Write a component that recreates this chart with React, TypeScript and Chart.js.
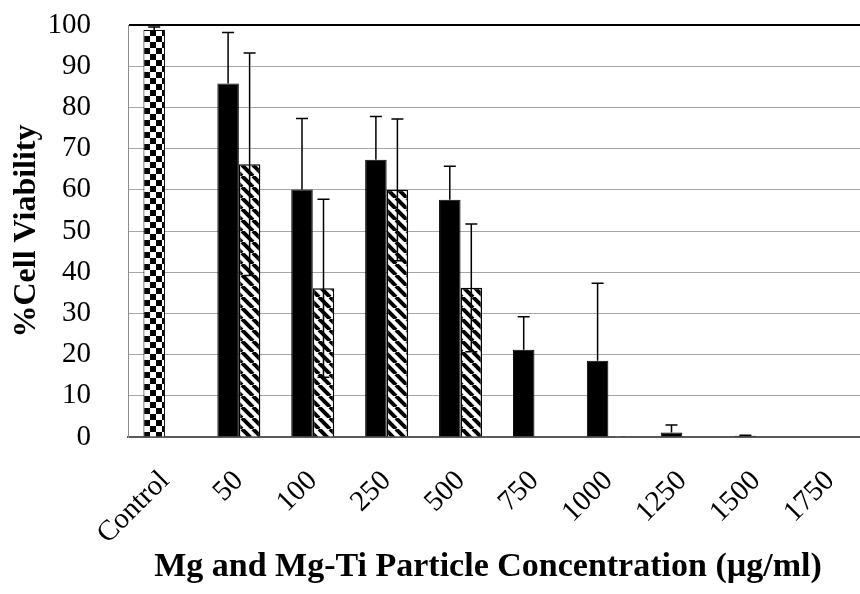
import React, { useEffect, useRef } from 'react';
import { Chart, registerables } from 'chart.js';

Chart.register(...registerables);

const categories = ['Control', '50', '100', '250', '500', '750', '1000', '1250', '1500', '1750'];
const mgValues = [98.8, 85.8, 60.1, 67.3, 57.6, 21.2, 18.5, 1.1, 0.3, null];
const mgErrors = [0.7, 12.4, 17.2, 10.5, 8.1, 8.0, 18.8, 1.8, 0.1, 0];
const mgTiValues = [null, 66.2, 36.1, 60.0, 36.2, null, 0.2, null, null, null];
const mgTiErrors = [0, 27.0, 21.6, 17.2, 15.5, 0, 0, 0, 0, 0];
const yMin = 0;
const yMax = 100;
const yStep = 10;
const xTitle = 'Mg and Mg-Ti Particle Concentration (µg/ml)';
const yTitle = '%Cell Viability';

const SERIF = "'Liberation Serif', 'Times New Roman', Times, serif";

function makeChecker(): CanvasPattern | string {
  const c = document.createElement('canvas');
  const s = 6;
  c.width = s * 2;
  c.height = s * 2;
  const g = c.getContext('2d');
  if (!g) return '#000';
  g.fillStyle = '#fff';
  g.fillRect(0, 0, s * 2, s * 2);
  g.fillStyle = '#000';
  g.fillRect(0, 0, s, s);
  g.fillRect(s, s, s, s);
  return g.createPattern(c, 'repeat') || '#000';
}

function makeHatch(): CanvasPattern | string {
  const c = document.createElement('canvas');
  const s = 11;
  c.width = s;
  c.height = s;
  const g = c.getContext('2d');
  if (!g) return '#888';
  g.fillStyle = '#fff';
  g.fillRect(0, 0, s, s);
  g.strokeStyle = '#000';
  g.lineWidth = 4;
  for (const x0 of [-s, 0, s]) {
    g.beginPath();
    g.moveTo(x0, 0);
    g.lineTo(x0 + s, s);
    g.stroke();
  }
  return g.createPattern(c, 'repeat') || '#888';
}

const errorBarPlugin = {
  id: 'errorBars',
  afterDatasetsDraw(chart: any) {
    const { ctx } = chart;
    const yScale = chart.scales.y;
    const sets = [
      { idx: 0, vals: mgValues, errs: mgErrors, both: false },
      { idx: 1, vals: mgTiValues, errs: mgTiErrors, both: true },
    ];
    ctx.save();
    ctx.strokeStyle = '#000';
    ctx.lineWidth = 1.5;
    for (const s of sets) {
      const meta = chart.getDatasetMeta(s.idx);
      meta.data.forEach((bar: any, i: number) => {
        const v = s.vals[i];
        const e = s.errs[i];
        if (v == null || !e) return;
        const x = bar.x;
        const yTop = yScale.getPixelForValue(v + e);
        const yBot = s.both ? yScale.getPixelForValue(Math.max(0, v - e)) : yScale.getPixelForValue(v);
        const cap = 6;
        ctx.beginPath();
        ctx.moveTo(x, yBot);
        ctx.lineTo(x, yTop);
        ctx.moveTo(x - cap, yTop);
        ctx.lineTo(x + cap, yTop);
        if (s.both) {
          ctx.moveTo(x - cap, yBot);
          ctx.lineTo(x + cap, yBot);
        }
        ctx.stroke();
      });
    }
    ctx.restore();
  },
};

const xTitlePlugin = {
  id: 'xTitleText',
  afterDraw(chart: any) {
    const { ctx } = chart;
    ctx.save();
    ctx.fillStyle = '#000';
    ctx.font = `bold 34px ${SERIF}`;
    ctx.textAlign = 'center';
    ctx.textBaseline = 'middle';
    ctx.fillText(xTitle, 488, 567);
    ctx.restore();
  },
};

export default function App() {
  const ref = useRef<HTMLCanvasElement | null>(null);

  useEffect(() => {
    if (!ref.current) return;
    const checker = makeChecker();
    const hatch = makeHatch();
    const mgColors = mgValues.map((_, i) => (i === 0 ? checker : '#000'));
    const chart = new Chart(ref.current, {
      type: 'bar',
      data: {
        labels: categories,
        datasets: [
          {
            label: 'Mg',
            data: mgValues as any,
            backgroundColor: mgColors as any,
            borderColor: '#000',
            borderWidth: 1,
            categoryPercentage: 0.582,
            barPercentage: 1,
          },
          {
            label: 'Mg-Ti',
            data: mgTiValues as any,
            backgroundColor: hatch as any,
            borderColor: '#000',
            borderWidth: 1.5,
            categoryPercentage: 0.582,
            barPercentage: 1,
          },
        ],
      },
      options: {
        animation: false,
        responsive: false,
        devicePixelRatio: 1,
        layout: { padding: { top: 25, right: 3, bottom: 0, left: 0 } },
        plugins: {
          legend: { display: false },
          tooltip: { enabled: false },
        },
        scales: {
          x: {
            grid: { display: false, drawTicks: false },
            border: { display: true, color: '#595959', width: 2 },
            ticks: {
              color: '#000',
              font: { family: SERIF, size: 29 },
              minRotation: 45,
              maxRotation: 45,
              padding: 27,
              autoSkip: false,
            },
            title: { display: false },
            afterFit(scale: any) {
              scale.height = 157;
              scale.paddingLeft = 0;
              scale.paddingRight = 0;
            },
          },
          y: {
            min: yMin,
            max: yMax,
            ticks: {
              stepSize: yStep,
              color: '#000',
              font: { family: SERIF, size: 29 },
              padding: 37,
            },
            grid: {
              drawTicks: false,
              color: (c: any) => (c.tick && c.tick.value === yMax ? '#000' : '#a6a6a6'),
              lineWidth: (c: any) => (c.tick && c.tick.value === yMax ? 2 : 1),
            },
            border: { display: true, color: '#8c8c8c', width: 1 },
            title: {
              display: true,
              text: yTitle,
              color: '#000',
              font: { family: SERIF, size: 32, weight: 'bold' },
              padding: { top: 8, bottom: 0 },
            },
            afterFit(scale: any) {
              scale.width = 128;
              scale.paddingTop = 0;
              scale.paddingBottom = 0;
            },
          },
        },
      },
      plugins: [errorBarPlugin, xTitlePlugin],
    });
    return () => chart.destroy();
  }, []);

  return (
    <div style={{ position: 'absolute', left: 0, top: 0, width: 860, height: 594, overflow: 'hidden', background: '#fff' }}>
      <canvas ref={ref} width={870} height={594} style={{ display: 'block', width: 870, height: 594 }} />
    </div>
  );
}
